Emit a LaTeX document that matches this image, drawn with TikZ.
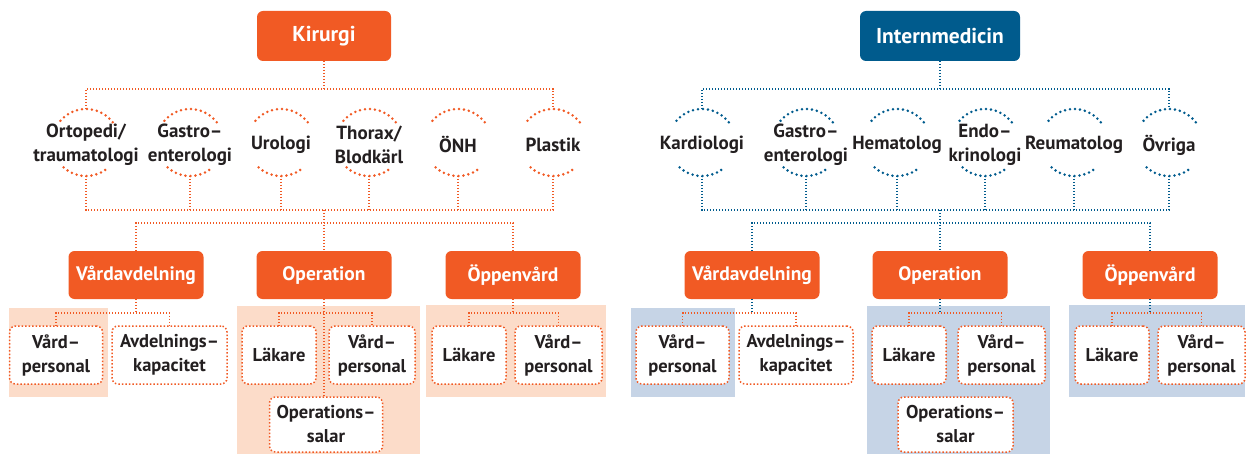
\documentclass[tikz,border=0pt]{standalone}
\usepackage{fontspec}
\setmainfont{PT Sans}
\definecolor{kirorange}{RGB}{241,90,36}
\definecolor{intblue}{RGB}{0,91,141}
\definecolor{kirpeach}{RGB}{252,220,201}
\definecolor{intgray}{RGB}{198,212,230}
\definecolor{txtgray}{RGB}{35,31,32}

\begin{document}
\begin{tikzpicture}[x=1pt,y=1pt]
\tikzstyle{every node}+=[inner sep=0pt, outer sep=0pt, align=center, text=txtgray, font=\fontsize{19}{24}\selectfont\bfseries]
\tikzstyle{head}=[rectangle, rounded corners=6pt, minimum height=50, text=white, font=\fontsize{21.5}{24}\selectfont\bfseries]
\tikzstyle{unit}=[rectangle, rounded corners=6pt, fill=kirorange, minimum width=135, minimum height=48, text=white, font=\fontsize{19.5}{24}\selectfont\bfseries]
\tikzstyle{spec}=[circle, minimum size=67]
\tikzstyle{leaf}=[rectangle, rounded corners=6pt, fill=white, draw=kirorange, line width=1.5pt, dash pattern=on 1.5pt off 2pt, minimum height=58, font=\fontsize{18.5}{24}\selectfont\bfseries]
\tikzstyle{obus}=[kirorange, line width=1.3pt, dash pattern=on 1.4pt off 1.6pt]
\tikzstyle{bbus}=[intblue, line width=1.3pt, dash pattern=on 1.4pt off 1.6pt]
\tikzstyle{odots}=[kirorange, line width=2.8pt, line cap=round, dash pattern=on 0pt off 5pt]
\tikzstyle{bdots}=[intblue, line width=2.8pt, line cap=round, dash pattern=on 0pt off 5pt]
\useasboundingbox (0,0) rectangle (1246,-454);
% shaded groups
\fill [kirpeach] (9,-308) rectangle (108,-397);
\fill [kirpeach] (237,-306) rectangle (420,-454);
\fill [kirpeach] (426,-305) rectangle (606,-397);
\fill [intgray] (631,-308) rectangle (735,-397);
\fill [intgray] (867,-306) rectangle (1050,-454);
\fill [intgray] (1069,-305) rectangle (1245,-397);
% Kirurgi
\node [head, fill=kirorange, minimum width=134] (kir) at (324,-36) {Kirurgi};
\node [spec] (ort) at (86,-142.5) {};
\node (ortT) at (86,-145) {Ortopedi/\\traumatologi};
\node [spec] (kgas) at (190,-142.5) {};
\node (kgasT) at (190,-145) {Gastro–\\enterologi};
\node [spec] (uro) at (281,-142.5) {};
\node (uroT) at (281,-145) {Urologi};
\node [spec] (tho) at (369,-142.5) {};
\node (thoT) at (369,-145) {Thorax/\\Blodkärl};
\node [spec] (onh) at (458,-142.5) {};
\node (onhT) at (458,-145) {ÖNH};
\node [spec] (pla) at (553,-142.5) {};
\node (plaT) at (553,-145) {Plastik};
\draw [odots] (ort.37) arc (37:143:33.5);
\draw [odots] (ort.228) arc (228:312:33.5);
\draw [odots] (kgas.37) arc (37:143:33.5);
\draw [odots] (kgas.228) arc (228:312:33.5);
\draw [odots] (uro.37) arc (37:143:33.5);
\draw [odots] (uro.228) arc (228:312:33.5);
\draw [odots] (tho.37) arc (37:143:33.5);
\draw [odots] (tho.228) arc (228:312:33.5);
\draw [odots] (onh.37) arc (37:143:33.5);
\draw [odots] (onh.228) arc (228:312:33.5);
\draw [odots] (pla.37) arc (37:143:33.5);
\draw [odots] (pla.228) arc (228:312:33.5);
\node [unit] (kvard) at (136,-275) {Vårdavdelning};
\node [unit] (kop) at (324,-275) {Operation};
\node [unit] (kopp) at (513,-275) {Öppenvård};
\node [leaf, minimum width=93] (kvp) at (56,-355) {Vård–\\personal};
\node [leaf, minimum width=115] (kavd) at (169.5,-355) {Avdelnings–\\kapacitet};
\node [leaf, minimum width=74] (klak) at (279,-355) {Läkare};
\node [leaf, minimum width=86] (kvp2) at (372,-355) {Vård–\\personal};
\node [leaf, minimum width=113, minimum height=55] (ksal) at (326,-424.5) {Operations–\\salar};
\node [leaf, minimum width=74] (kolak) at (469,-355) {Läkare};
\node [leaf, minimum width=87] (kovp) at (558.5,-355) {Vård–\\personal};
\draw [obus] (ort.north) -- ++(0,20) coordinate (ktop) -| (pla.north);
\draw [obus] (kir.south) -- (kir.south |- ktop);
\draw [obus] (ort.south) -- ++(0,-34) coordinate (kbot) -| (pla.south);
\draw [obus] (kgas.south) -- (kgas.south |- kbot);
\draw [obus] (uro.south) -- (uro.south |- kbot);
\draw [obus] (tho.south) -- (tho.south |- kbot);
\draw [obus] (onh.south) -- (onh.south |- kbot);
\draw [obus] (kop.north |- kbot) -- (kop.north);
\draw [obus] (kvard.north) -- ++(0,28) -| (kopp.north);
\draw [obus] (kvard.south) -- ++(0,-14);
\draw [obus] (kvp.north) -- ++(0,13) -| (kavd.north);
\draw [obus] (kop.south) -- (kop.south |- ksal.north);
\draw [obus] (klak.north) -- ++(0,13) -| (kvp2.north);
\draw [obus] (kopp.south) -- ++(0,-14);
\draw [obus] (kolak.north) -- ++(0,13) -| (kovp.north);
% Internmedicin
\node [head, fill=intblue, minimum width=160] (int) at (940,-36) {Internmedicin};
\node [spec] (kar) at (702,-142.5) {};
\node (karT) at (702,-145) {Kardiologi};
\node [spec] (igas) at (806,-142.5) {};
\node (igasT) at (806,-145) {Gastro–\\enterologi};
\node [spec] (hem) at (897,-142.5) {};
\node (hemT) at (897,-145) {Hematolog};
\node [spec] (end) at (985,-142.5) {};
\node (endT) at (985,-145) {Endo–\\krinologi};
\node [spec] (reu) at (1074,-142.5) {};
\node (reuT) at (1074,-145) {Reumatolog};
\node [spec] (ovr) at (1169,-142.5) {};
\node (ovrT) at (1169,-145) {Övriga};
\draw [bdots] (kar.37) arc (37:143:33.5);
\draw [bdots] (kar.228) arc (228:312:33.5);
\draw [bdots] (igas.37) arc (37:143:33.5);
\draw [bdots] (igas.228) arc (228:312:33.5);
\draw [bdots] (hem.37) arc (37:143:33.5);
\draw [bdots] (hem.228) arc (228:312:33.5);
\draw [bdots] (end.37) arc (37:143:33.5);
\draw [bdots] (end.228) arc (228:312:33.5);
\draw [bdots] (reu.37) arc (37:143:33.5);
\draw [bdots] (reu.228) arc (228:312:33.5);
\draw [bdots] (ovr.37) arc (37:143:33.5);
\draw [bdots] (ovr.228) arc (228:312:33.5);
\node [unit] (ivard) at (752,-275) {Vårdavdelning};
\node [unit] (iop) at (940,-275) {Operation};
\node [unit] (iopp) at (1150,-275) {Öppenvård};
\node [leaf, minimum width=93] (ivp) at (682.5,-355) {Vård–\\personal};
\node [leaf, minimum width=114] (iavd) at (796,-355) {Avdelnings–\\kapacitet};
\node [leaf, minimum width=74] (ilak) at (909,-355) {Läkare};
\node [leaf, minimum width=87] (ivp2) at (1001.5,-355) {Vård–\\personal};
\node [leaf, minimum width=115, minimum height=55] (isal) at (955.5,-424.5) {Operations–\\salar};
\node [leaf, minimum width=74] (iolak) at (1112,-355) {Läkare};
\node [leaf, minimum width=87] (iovp) at (1201.5,-355) {Vård–\\personal};
\draw [bbus] (kar.north) -- ++(0,20) coordinate (itop) -| (ovr.north);
\draw [bbus] (int.south) -- (int.south |- itop);
\draw [bbus] (kar.south) -- ++(0,-34) coordinate (ibot) -| (ovr.south);
\draw [bbus] (igas.south) -- (igas.south |- ibot);
\draw [bbus] (hem.south) -- (hem.south |- ibot);
\draw [bbus] (end.south) -- (end.south |- ibot);
\draw [bbus] (reu.south) -- (reu.south |- ibot);
\draw [bbus] (iop.north |- ibot) -- (iop.north);
\draw [bbus] (ivard.north) -- ++(0,28) -| (iopp.north);
\draw [bbus] (ivard.south) -- ++(0,-14);
\draw [obus] (ivp.north) -- ++(0,13) -| (iavd.north);
\draw [bbus] (iop.south) -- ++(0,-14);
\draw [obus] (ilak.north) -- ++(0,13) -| (ivp2.north);
\draw [bbus] (iopp.south) -- ++(0,-14);
\draw [obus] (iolak.north) -- ++(0,13) -| (iovp.north);
\end{tikzpicture}
\end{document}
